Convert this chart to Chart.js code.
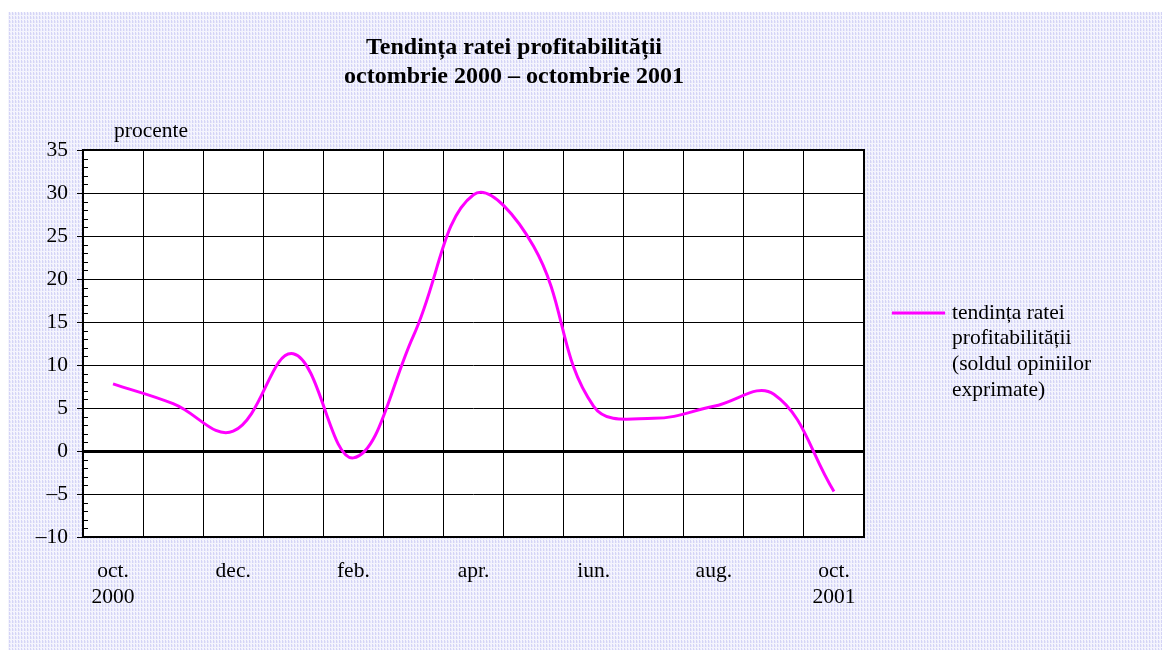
<!DOCTYPE html>
<html>
<head>
<meta charset="utf-8">
<script src="https://cdn.jsdelivr.net/npm/chart.js@4/dist/chart.umd.min.js"></script>
<style>
  html, body { margin: 0; padding: 0; background: #fff; }
  #wrap { width: 1162px; height: 650px; }
</style>
</head>
<body>
<div id="wrap"><canvas id="profitChart" width="1162" height="650"></canvas></div>
<script>
const months = [['oct.', '2000'], 'nov.', 'dec.', 'ian.', 'feb.', 'mar.', 'apr.', 'mai', 'iun.', 'iul.', 'aug.', 'sep.', ['oct.', '2001']];
const profitTrend = [7.8, 5.5, 2.3, 11.3, -0.8, 13.4, 29.8, 23.8, 5.2, 3.8, 5.2, 6.6, -4.7];
const yTicks = [-10, -5, 0, 5, 10, 15, 20, 25, 30, 35];
const titleLines = ['Tendința ratei profitabilității', 'octombrie 2000 – octombrie 2001'];
const legendLines = ['tendința ratei', 'profitabilității', '(soldul opiniilor', 'exprimate)'];
const unitLabel = 'procente';

const serif = "'Liberation Serif', 'Times New Roman', serif";

function makePattern() {
  const p = document.createElement('canvas');
  p.width = 3; p.height = 4;
  const c = p.getContext('2d');
  c.fillStyle = '#f4f4fd'; c.fillRect(0, 0, 3, 4);
  c.fillStyle = '#d4d4f6'; c.fillRect(0, 0, 1, 3);
  c.fillStyle = '#e6e6fa'; c.fillRect(1, 1, 1, 2);
  return document.getElementById('profitChart').getContext('2d').createPattern(p, 'repeat');
}

const decorPlugin = {
  id: 'decor',
  beforeDraw(chart) {
    const { ctx, chartArea: a } = chart;
    ctx.save();
    ctx.fillStyle = '#fff';
    ctx.fillRect(0, 0, chart.width, chart.height);
    ctx.fillStyle = makePattern();
    ctx.fillRect(8, 12, chart.width - 8, chart.height - 12);
    ctx.fillStyle = '#fff';
    ctx.fillRect(a.left, a.top, a.right - a.left, a.bottom - a.top);
    ctx.restore();
  },
  afterDatasetsDraw(chart) {
    const { ctx, chartArea: a, scales } = chart;
    const y = scales.y;
    ctx.save();
    // minor ticks
    ctx.strokeStyle = '#000';
    ctx.lineWidth = 1;
    for (let v = -10; v <= 35; v++) {
      if (v % 5 === 0) continue;
      const py = Math.round(y.getPixelForValue(v)) + 0.5;
      ctx.beginPath();
      ctx.moveTo(a.left, py);
      ctx.lineTo(a.left + 5, py);
      ctx.stroke();
    }
    // plot border
    ctx.lineWidth = 2;
    ctx.strokeRect(a.left, a.top, a.right - a.left, a.bottom - a.top);

    // title
    ctx.fillStyle = '#000';
    ctx.textAlign = 'center';
    ctx.textBaseline = 'middle';
    ctx.font = 'bold 24px ' + serif;
    ctx.fillText(titleLines[0], 514, 48);
    ctx.fillText(titleLines[1], 514, 77);

    // unit label
    ctx.font = '21.5px ' + serif;
    ctx.fillText(unitLabel, 151, 131);

    // legend
    const ds = chart.data.datasets[0];
    ctx.strokeStyle = ds.borderColor;
    ctx.lineWidth = 3;
    ctx.beginPath();
    ctx.moveTo(892, 313);
    ctx.lineTo(945, 313);
    ctx.stroke();
    ctx.textAlign = 'left';
    legendLines.forEach((t, i) => ctx.fillText(t, 952, 313 + i * 25.7));
    ctx.restore();
  }
};

new Chart(document.getElementById('profitChart'), {
  type: 'line',
  data: {
    labels: months,
    datasets: [{
      label: legendLines.join(' '),
      data: profitTrend,
      borderColor: '#ff00ff',
      borderWidth: 3,
      pointRadius: 0,
      tension: 0.4,
      fill: false
    }]
  },
  options: {
    responsive: false,
    animation: false,
    devicePixelRatio: 1,
    layout: { padding: { left: 0, top: 150, right: 298, bottom: 0 } },
    plugins: {
      legend: { display: false },
      title: { display: false },
      tooltip: { enabled: false }
    },
    scales: {
      x: {
        offset: true,
        grid: {
          offset: true,
          color: '#000',
          lineWidth: 1,
          drawTicks: false
        },
        border: { display: false },
        ticks: {
          autoSkip: false,
          maxRotation: 0,
          padding: 21,
          color: '#000',
          font: { family: serif, size: 21.5, lineHeight: 1.21 },
          callback: function (val, i) {
            return i % 2 === 0 ? this.getLabelForValue(val) : '';
          }
        },
        afterFit(scale) { scale.height = 113; }
      },
      y: {
        min: -10,
        max: 35,
        afterBuildTicks(scale) { scale.ticks = yTicks.map(v => ({ value: v })); },
        grid: {
          color: '#000',
          lineWidth: ctx => (ctx.tick && ctx.tick.value === 0 ? 3 : 1),
          tickLength: 6,
          tickColor: '#000',
          tickWidth: 1
        },
        border: { display: false },
        ticks: {
          padding: 9,
          color: '#000',
          font: { family: serif, size: 21.5 },
          callback: v => String(v).replace('-', '–')
        },
        afterFit(scale) { scale.width = 83; }
      }
    }
  },
  plugins: [decorPlugin]
});
</script>
</body>
</html>
